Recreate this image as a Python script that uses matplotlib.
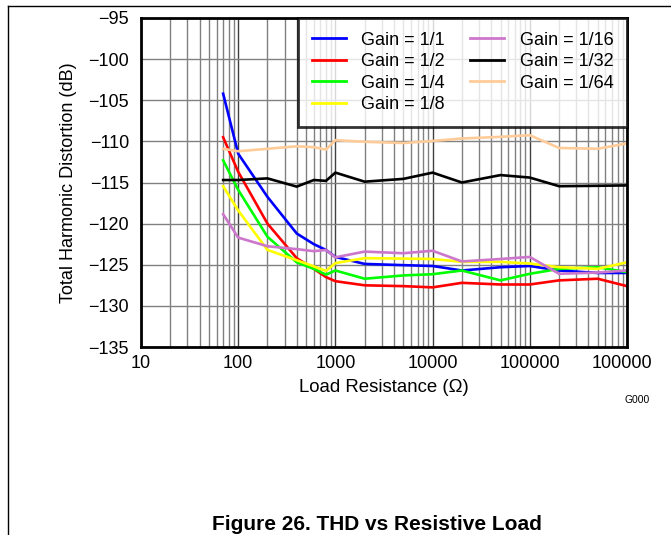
import matplotlib
matplotlib.use("Agg")
import matplotlib.pyplot as plt
from matplotlib.lines import Line2D
from matplotlib.transforms import Bbox, TransformedBbox

plt.rcParams['font.family'] = ['Liberation Sans', 'DejaVu Sans']

load = [70, 100, 200, 400, 600, 800, 1000, 2000, 5000, 1e4, 2e4, 5e4, 1e5, 2e5, 5e5, 1e6]
gain_1_1 = [-104.2, -111.5, -116.75, -121.2, -122.5, -123.2, -124.05, -124.9, -125.05, -125.15, -125.7, -125.3, -125.15, -125.7, -126.0, -126.0]
gain_1_2 = [-109.5, -113.7, -120.0, -124.2, -125.5, -126.5, -127.0, -127.5, -127.6, -127.75, -127.2, -127.4, -127.4, -126.9, -126.7, -127.6]
gain_1_4 = [-112.3, -115.9, -121.6, -124.7, -125.5, -126.2, -125.7, -126.7, -126.3, -126.15, -125.7, -126.9, -126.1, -125.5, -125.3, -125.9]
gain_1_8 = [-115.45, -118.4, -123.2, -124.45, -125.2, -125.75, -124.8, -124.2, -124.25, -124.3, -124.65, -124.65, -124.85, -125.3, -125.5, -124.7]
gain_1_16 = [-118.85, -121.7, -122.75, -123.1, -123.35, -123.2, -124.1, -123.4, -123.6, -123.3, -124.6, -124.3, -124.05, -126.1, -125.95, -125.7]
gain_1_32 = [-114.7, -114.7, -114.5, -115.5, -114.7, -114.8, -113.8, -114.9, -114.56, -113.8, -115.0, -114.1, -114.4, -115.45, -115.4, -115.35]
gain_1_64 = [-110.9, -111.2, -110.9, -110.6, -110.7, -111.0, -109.85, -110.05, -110.2, -109.95, -109.65, -109.45, -109.25, -110.8, -110.9, -110.25]

series = [
    ("Gain = 1/1", gain_1_1, "#0000FF"),
    ("Gain = 1/2", gain_1_2, "#FF0000"),
    ("Gain = 1/4", gain_1_4, "#00FF00"),
    ("Gain = 1/8", gain_1_8, "#FFFF00"),
    ("Gain = 1/16", gain_1_16, "#CC77CC"),
    ("Gain = 1/32", gain_1_32, "#000000"),
    ("Gain = 1/64", gain_1_64, "#FFCC99"),
]

xticks = [10, 100, 1000, 10000, 100000, 1000000]
xticklabels = ["10", "100", "1000", "10000", "100000", "1000000"]
yticks = [-135, -130, -125, -120, -115, -110, -105, -100, -95]

W, H = 671, 535
fig = plt.figure(figsize=(W / 100, H / 100), dpi=100)
ax = fig.add_axes([141 / W, 1 - 347 / H, (627 - 141) / W, (347 - 18) / H])

for label, vals, col in series:
    ax.plot(load, vals, color=col, lw=1.9, label=label, solid_joinstyle='miter')

ax.set_xscale('log')
ax.set_xlim(10, 1e6)
ax.set_ylim(-135, -95)
ax.set_xticks(xticks)
ax.set_xticklabels(xticklabels)
ax.set_yticks(yticks)
ax.set_yticklabels([str(v).replace('-', '\u2212') for v in yticks])
ax.tick_params(axis='both', which='both', length=0, labelsize=13)
ax.tick_params(axis='x', pad=6)
ax.tick_params(axis='y', pad=8.6)

ax.grid(True, which='major', axis='x', color='#404040', lw=1.0)
ax.grid(True, which='minor', axis='x', color='#808080', lw=1.0)
ax.grid(True, which='major', axis='y', color='#808080', lw=1.0)
ax.set_axisbelow(True)
for s in ax.spines.values():
    s.set_linewidth(2.0)
    s.set_color('black')

ax.set_xlabel("Load Resistance (\u03a9)", fontsize=13.4, labelpad=5)
ax.set_ylabel("Total Harmonic Distortion (dB)", fontsize=13, labelpad=8)

leg = ax.legend(loc='upper right', bbox_to_anchor=(1.0, 1.0), ncol=2, fontsize=13,
                frameon=True, fancybox=False, borderaxespad=0, handlelength=1.9,
                handletextpad=0.85, columnspacing=1.4, labelspacing=0.25, borderpad=0.75)
leg.get_frame().set_edgecolor('black')
leg.get_frame().set_linewidth(2.0)
for h in leg.get_lines():
    h.set_linewidth(2.0)

fig.text(650 / W, 1 - 400 / H, "G000", fontsize=7.4, ha='right', va='center')
fig.text(377 / W, 1 - 525 / H, "Figure 26. THD vs Resistive Load", fontsize=15,
         fontweight='bold', ha='center', va='center')

fig.add_artist(Line2D([8 / W, 1], [1 - 6 / H, 1 - 6 / H], color='black', lw=1.0, transform=fig.transFigure))
fig.add_artist(Line2D([8 / W, 8 / W], [1 - 6 / H, 0], color='black', lw=1.0, transform=fig.transFigure))

labels = ax.get_xticklabels()
clipbox = TransformedBbox(Bbox([[0, 0], [652 / W, 1]]), fig.transFigure)
labels[-1].set_clip_on(True)
labels[-1].set_clip_box(clipbox)

fig.savefig("out.png", dpi=100)
